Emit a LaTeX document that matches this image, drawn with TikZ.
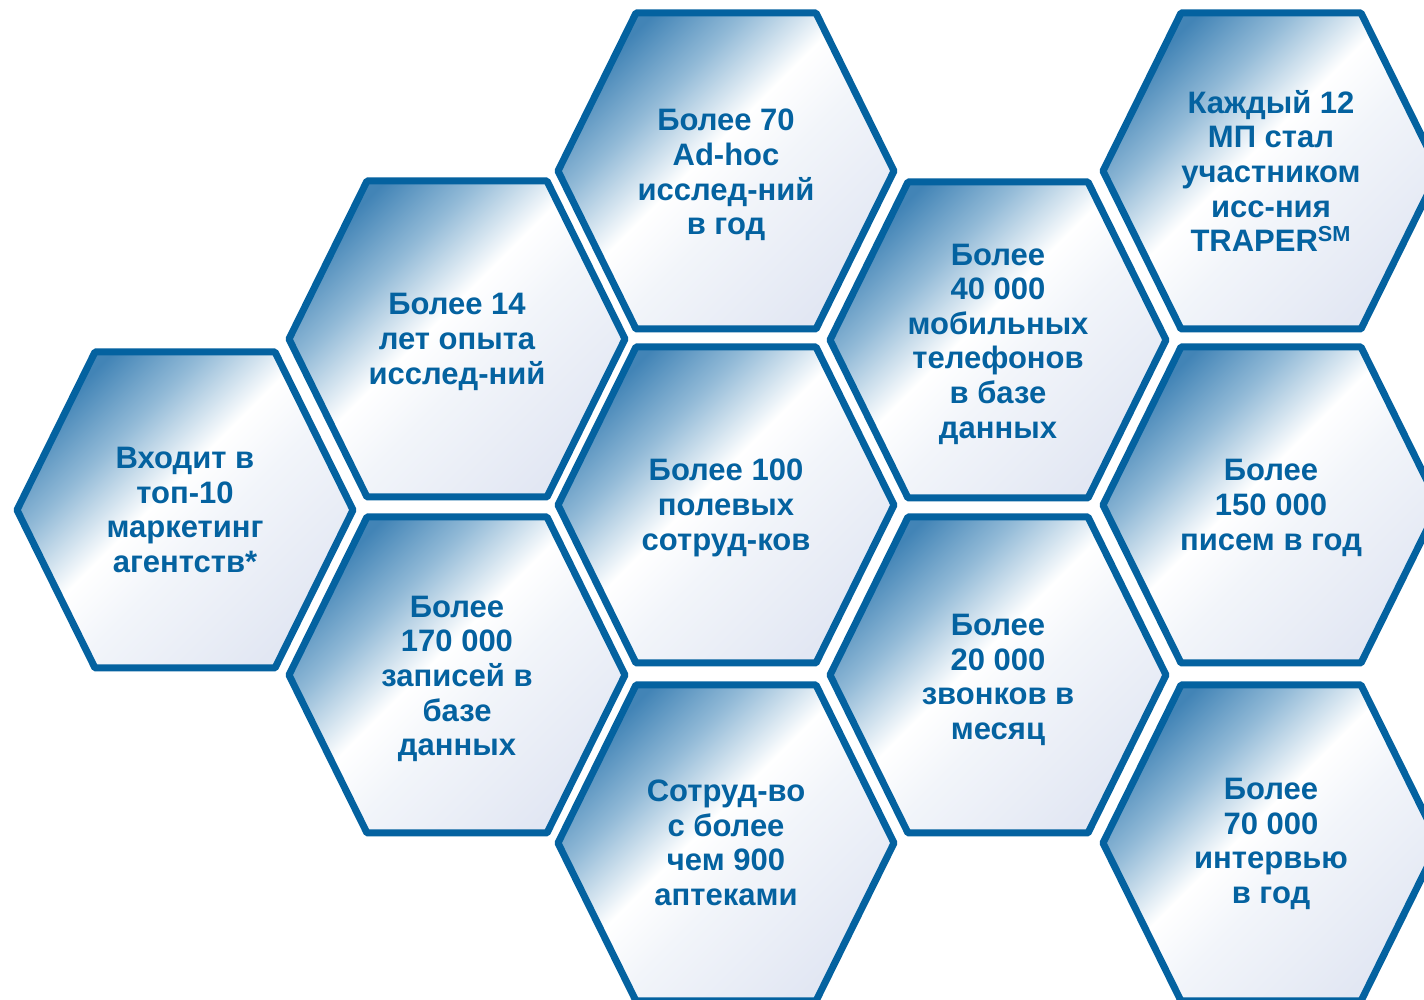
\documentclass[tikz,border=0pt]{standalone}
\usepackage{fontspec}
\setmainfont{Liberation Sans}
\usetikzlibrary{backgrounds}

\definecolor{hexblue}{RGB}{4,98,160}
\definecolor{hexdeep}{RGB}{66,132,182}
\definecolor{hexmid}{RGB}{146,186,215}
\definecolor{hexlav}{RGB}{226,231,243}
\definecolor{hexpale}{RGB}{242,245,250}
\pgfdeclareverticalshading{hexshade}{100bp}{color(0bp)=(hexlav); color(25bp)=(hexlav); color(45bp)=(hexpale); color(54bp)=(white); color(65bp)=(hexmid); color(75bp)=(hexdeep); color(100bp)=(hexdeep)}

\begin{document}
\begin{tikzpicture}[
	x=0.5pt, y=0.5pt,
	hexnode/.style={text=hexblue, font=\fontsize{15.5}{17.3}\selectfont\bfseries, align=center, inner sep=0pt},
	hexcell/.style={draw=hexblue, line width=3.5pt, line join=round, shade, shading=hexshade, shading angle=45},
	hexagon/.pic={\path[hexcell] (-168,0) -- (-90,158) -- (90,158) -- (168,0) -- (90,-158) -- (-90,-158) -- cycle;}
	]
	\useasboundingbox (0,0) rectangle (1424,1000);
	
	\coordinate (agency-c) at (185,490);
	\coordinate (years-c) at (457,661);
	\coordinate (records-c) at (457,325);
	\coordinate (adhoc-c) at (726,829);
	\coordinate (field-c) at (726,495);
	\coordinate (pharma-c) at (726,157);
	\coordinate (mobile-c) at (998,660);
	\coordinate (calls-c) at (998,325);
	\coordinate (traper-c) at (1271,829);
	\coordinate (letters-c) at (1271,495);
	\coordinate (interview-c) at (1271,157);
	
	\node[hexnode] (agency) at (agency-c) {Входит в\\топ-10\\маркетинг\\агентств*};
	\node[hexnode, yshift=-1.5pt] (years) at (years-c) {Более 14\\лет опыта\\исслед-ний};
	\node[hexnode, yshift=-2pt] (records) at (records-c) {Более\\170 000\\записей в\\базе\\данных};
	\node[hexnode, yshift=-2pt] (adhoc) at (adhoc-c) {Более 70\\Ad-hoc\\исслед-ний\\в год};
	\node[hexnode, yshift=-1.5pt] (field) at (field-c) {Более 100\\полевых\\сотруд-ков};
	\node[hexnode] (pharma) at (pharma-c) {Сотруд-во\\с более\\чем 900\\аптеками};
	\node[hexnode, yshift=-2pt] (mobile) at (mobile-c) {Более\\40 000\\мобильных\\телефонов\\в базе\\данных};
	\node[hexnode, yshift=-2.5pt] (calls) at (calls-c) {Более\\20 000\\звонков в\\месяц};
	\node[hexnode] (traper) at (traper-c) {Каждый 12\\МП стал\\участником\\исс-ния\\TRAPER\textsuperscript{SM}};
	\node[hexnode, yshift=-1.5pt] (letters) at (letters-c) {Более\\150 000\\писем в год};
	\node[hexnode, yshift=-0.5pt] (interview) at (interview-c) {Более\\70 000\\интервью\\в год};
	
	\begin{scope}[on background layer]
	\fill[white] (0,0) rectangle (1424,1000);
	\foreach \cell in {agency,years,records,adhoc,field,pharma,mobile,calls,traper,letters,interview}
		\path (\cell-c) pic {hexagon};
	\end{scope}
	
\end{tikzpicture}
\end{document}
